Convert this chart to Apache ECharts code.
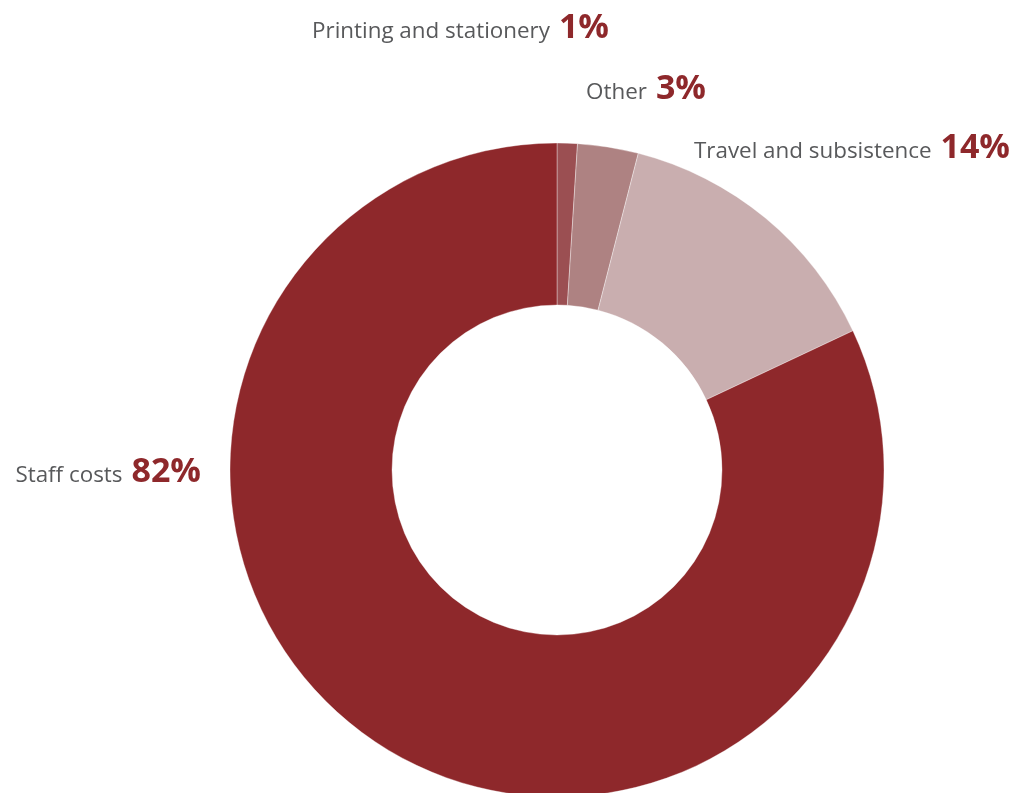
<!DOCTYPE html>
<html>
<head>
<meta charset="utf-8">
<script src="https://cdn.jsdelivr.net/npm/echarts@6/dist/echarts.min.js"></script>
<style>
  html, body { margin: 0; padding: 0; background: #fff; }
  #chart { width: 1015px; height: 793px; }
</style>
</head>
<body>
<div id="chart"></div>
<script>
// Expenditure breakdown (percent of total)
const categories = ['Printing and stationery', 'Other', 'Travel and subsistence', 'Staff costs'];
const shares = [1, 3, 14, 82];
const sliceColors = ['#9B4F52', '#AE8282', '#C9AEAF', '#8E282B'];

// Label anchors: right edge and vertical middle of each label
const labelAnchors = [
  { x: 609, y: 28 },
  { x: 706, y: 89 },
  { x: 1010, y: 148 },
  { x: 201, y: 472 }
];

const chart = echarts.init(document.getElementById('chart'));
chart.setOption({
  animation: false,
  series: [{
    type: 'pie',
    center: [557, 470],
    radius: [165, 327],
    startAngle: 90,
    clockwise: true,
    avoidLabelOverlap: false,
    itemStyle: { borderColor: 'rgba(255,255,255,0.6)', borderWidth: 0.6 },
    label: {
      show: true,
      position: 'outside',
      formatter: p => '{n|' + p.name + '}{v|' + p.value + '%}',
      rich: {
        n: { fontFamily: 'Open Sans', fontSize: 22.4, color: '#58595B', padding: [7, 0, 0, 0] },
        v: { fontFamily: 'Open Sans', fontSize: 34, fontWeight: 'bold', color: '#8E282B', padding: [0, 0, 0, 9] }
      }
    },
    labelLine: { show: false },
    labelLayout: params => {
      const a = labelAnchors[params.dataIndex];
      return { x: a.x, y: a.y, align: 'right', verticalAlign: 'middle' };
    },
    emphasis: { disabled: true },
    data: categories.map((name, i) => ({
      name,
      value: shares[i],
      itemStyle: { color: sliceColors[i] }
    }))
  }]
});
</script>
</body>
</html>
